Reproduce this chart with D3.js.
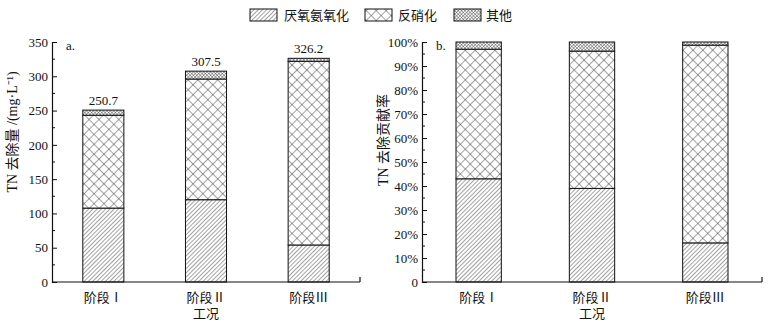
<!DOCTYPE html>
<html><head><meta charset="utf-8">
<script src="https://cdn.jsdelivr.net/npm/d3@7"></script>
<style>
body{margin:0;background:#fff;}
text{font-family:"Liberation Serif","Noto Sans CJK SC",serif;fill:#111;}
</style></head>
<body><svg id="c" width="770" height="324"></svg>
<script>
const categories = ["阶段Ⅰ","阶段Ⅱ","阶段Ⅲ"];
const seriesNames = ["厌氧氨氧化","反硝化","其他"];
// panel a: removal amount (mg/L)
const anammoxA = [107.8, 120.0, 54.0];
const denitA = [135.4, 176.0, 267.9];
const otherA = [7.5, 11.5, 4.3];
const totalsA = ["250.7","307.5","326.2"];
// panel b: contribution (%)
const anammoxB = [43.0, 39.0, 16.3];
const denitB = [54.0, 57.2, 82.4];
const otherB = [3.0, 3.8, 1.3];
const ticksA = [0,50,100,150,200,250,300,350];
const ticksB = [0,10,20,30,40,50,60,70,80,90,100];

const svg = d3.select("#c");
const defs = svg.append("defs");
// patterns
const p1 = defs.append("pattern").attr("id","pA").attr("patternUnits","userSpaceOnUse").attr("width",3).attr("height",3)
  .attr("patternTransform","rotate(45)");
p1.append("rect").attr("width",3).attr("height",3).attr("fill","#fff");
p1.append("line").attr("x1",0).attr("y1",0).attr("x2",0).attr("y2",3).attr("stroke","#333").attr("stroke-width",0.9);
const p2 = defs.append("pattern").attr("id","pD").attr("patternUnits","userSpaceOnUse").attr("width",7).attr("height",7)
  .attr("patternTransform","rotate(45)");
p2.append("rect").attr("width",7).attr("height",7).attr("fill","#fff");
p2.append("line").attr("x1",0).attr("y1",0).attr("x2",0).attr("y2",7).attr("stroke","#333").attr("stroke-width",0.9);
p2.append("line").attr("x1",0).attr("y1",0).attr("x2",7).attr("y2",0).attr("stroke","#333").attr("stroke-width",0.9);
const p3 = defs.append("pattern").attr("id","pO").attr("patternUnits","userSpaceOnUse").attr("width",2.4).attr("height",2.4)
  .attr("patternTransform","rotate(45)");
p3.append("rect").attr("width",2.4).attr("height",2.4).attr("fill","#fff");
p3.append("line").attr("x1",0).attr("y1",0).attr("x2",0).attr("y2",2.4).attr("stroke","#333").attr("stroke-width",0.8);
p3.append("line").attr("x1",0).attr("y1",0).attr("x2",2.4).attr("y2",0).attr("stroke","#333").attr("stroke-width",0.8);
const fills = ["url(#pA)","url(#pD)","url(#pO)"];

function panel(opts){
  const g = svg.append("g");
  const x = d3.scaleBand().domain(categories).range([opts.x0, opts.x1]).paddingInner(0.6).paddingOuter(0.3);
  const y = d3.scaleLinear().domain([0, opts.max]).range([282, 42]);
  const rows = categories.map((c,i)=>({cat:c, a:opts.s[0][i], d:opts.s[1][i], o:opts.s[2][i]}));
  const stacked = d3.stack().keys(["a","d","o"])(rows);
  stacked.forEach((layer,k)=>{
    g.selectAll(null).data(layer).enter().append("rect")
      .attr("x", d=>x(d.data.cat)).attr("width", x.bandwidth())
      .attr("y", d=>y(d[1])).attr("height", d=>y(d[0])-y(d[1]))
      .attr("fill", fills[k]).attr("stroke","#111").attr("stroke-width",1);
  });
  // y axis
  const ay = d3.axisRight(y).tickValues(opts.ticks).tickSize(5).tickFormat(opts.fmt);
  const ga = g.append("g").attr("transform",`translate(${opts.x0},0)`).call(ay);
  ga.select(".domain").attr("stroke","#111").attr("stroke-width",1.2);
  ga.selectAll(".tick line").attr("stroke","#111");
  ga.selectAll(".tick text").attr("x",-4).attr("text-anchor","end").attr("font-size",13)
    .attr("font-family",'"Liberation Serif",serif').attr("fill","#111");
  // minor ticks
  const minor = [];
  for(let i=0;i<opts.ticks.length-1;i++) minor.push((opts.ticks[i]+opts.ticks[i+1])/2);
  g.selectAll(null).data(minor).enter().append("line")
    .attr("x1",opts.x0).attr("x2",opts.x0+3).attr("y1",d=>y(d)).attr("y2",d=>y(d)).attr("stroke","#111");
  // x axis
  g.append("line").attr("x1",opts.x0).attr("x2",opts.x1).attr("y1",282).attr("y2",282).attr("stroke","#111").attr("stroke-width",1.2);
  g.append("line").attr("x1",opts.x1).attr("x2",opts.x1).attr("y1",282).attr("y2",277).attr("stroke","#111").attr("stroke-width",1.2);
  g.selectAll(null).data(categories).enter().append("text")
    .attr("x",d=>x(d)+x.bandwidth()/2).attr("y",302).attr("text-anchor","middle").attr("font-size",13)
    .attr("font-family",'"Noto Sans CJK SC",sans-serif').text(d=>d);
  g.append("text").attr("x",x(categories[1])+x.bandwidth()/2).attr("y",318).attr("text-anchor","middle")
    .attr("font-size",13).attr("font-family",'"Noto Sans CJK SC",sans-serif').text("工况");
  g.append("text").attr("x",opts.x0+14).attr("y",50).attr("font-size",13).text(opts.tag);
  g.append("text").attr("transform",`translate(${opts.ylx},${opts.yly}) rotate(-90)`).attr("text-anchor","middle")
    .attr("font-size",14).text(opts.ylabel);
  if(opts.totals){
    g.selectAll(null).data(stacked[2]).enter().append("text")
      .attr("x",d=>x(d.data.cat)+x.bandwidth()/2).attr("y",d=>y(d[1])-5).attr("text-anchor","middle")
      .attr("font-size",13).text((d,i)=>opts.totals[i]);
  }
}
panel({x0:52,x1:360,max:350,s:[anammoxA,denitA,otherA],ticks:ticksA,fmt:d=>d,tag:"a.",
  ylabel:"TN 去除量 /(mg·L⁻¹)", ylx:17, yly:132, totals:totalsA});
panel({x0:422,x1:762,max:100,s:[anammoxB,denitB,otherB],ticks:ticksB,fmt:d=>d===0?"0":d+"%",tag:"b.",
  ylabel:"TN 去除贡献率", ylx:388, yly:140});

// legend
const lg = svg.append("g");
const lx = [250,365,454], tx=[284,398,486];
seriesNames.forEach((n,i)=>{
  lg.append("rect").attr("x",lx[i]).attr("y",9).attr("width",27).attr("height",12).attr("fill",fills[i]).attr("stroke","#111");
  lg.append("text").attr("x",tx[i]).attr("y",20).attr("font-size",13).attr("font-family",'"Noto Sans CJK SC",sans-serif').text(n);
});
</script></body></html>
